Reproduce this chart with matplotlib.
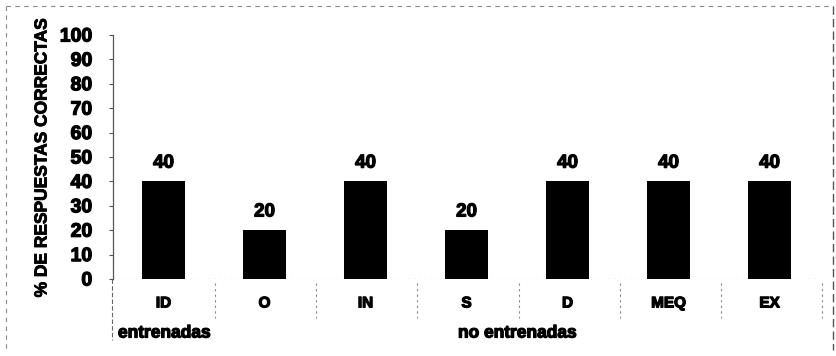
import matplotlib
matplotlib.use("Agg")
import matplotlib.pyplot as plt
from matplotlib.lines import Line2D
import matplotlib.patheffects as pe

categories = ["ID", "O", "IN", "S", "D", "MEQ", "EX"]
values = [40, 20, 40, 20, 40, 40, 40]
yticks = [0, 10, 20, 30, 40, 50, 60, 70, 80, 90, 100]
ylabel = "% DE RESPUESTAS CORRECTAS"
group_labels = ["entrenadas", "no entrenadas"]

plt.rcParams['font.family'] = ['Liberation Sans', 'DejaVu Sans']
plt.rcParams['font.weight'] = 'bold'

heavy = [pe.withStroke(linewidth=0.9, foreground='black')]

W, H = 837, 356
fig = plt.figure(figsize=(W / 100, H / 100), dpi=100)

def fx(px):
    return px / W

def fy(py):
    return 1 - py / H

left, right, top, bottom = 113, 820, 35, 279
ax = fig.add_axes([fx(left), fy(bottom), fx(right) - fx(left), fy(top) - fy(bottom)])

x = list(range(len(categories)))
ax.bar(x, values, width=0.42, color='black', zorder=3)
for xi, v in zip(x, values):
    ax.text(xi, v + 4, f"{v}", ha='center', va='bottom', fontsize=13.5, fontweight='bold',
            path_effects=heavy)

ax.set_xlim(-0.5, len(categories) - 0.5)
ax.set_ylim(0, 100)
ax.set_yticks(yticks)
ax.set_yticklabels([str(t) for t in yticks], fontsize=14, fontweight='bold')
for t in ax.get_yticklabels():
    t.set_path_effects(heavy)
ax.tick_params(axis='y', direction='out', length=3, width=0.8, color='#555555', pad=12)
ax.set_xticks([])
for s in ['top', 'right', 'bottom']:
    ax.spines[s].set_visible(False)
ax.spines['left'].set_color('#555555')
ax.spines['left'].set_linewidth(0.9)
ax.patch.set_alpha(0)

# zero line (dotted)
ax.axhline(0, color='#777777', lw=0.8, ls=(0, (2, 3)), zorder=2)

# Category labels below
for xi, c in zip(x, categories):
    ax.text(xi, -10, c, ha='center', va='center', fontsize=11, fontweight='bold',
            path_effects=heavy)

# Table separator lines (in figure pixels)
seps = [215, 316, 417, 519, 620, 721, 822]
for sx in seps:
    fig.add_artist(Line2D([fx(sx), fx(sx)], [fy(283), fy(318)], color='#888888', lw=0.8,
                          ls=(0, (2, 3))))
# left axis extension through table
fig.add_artist(Line2D([fx(112.5), fx(112.5)], [fy(279), fy(340)], color='#666666', lw=0.8,
                      ls=(0, (4, 2))))

# group labels
fig.text(fx(118), fy(333), group_labels[0], ha='left', va='center', fontsize=12.5,
         fontweight='bold', path_effects=heavy)
fig.text(fx(458), fy(333), group_labels[1], ha='left', va='center', fontsize=12.5,
         fontweight='bold', path_effects=heavy)

# y label
fig.text(fx(42), fy(158), ylabel, rotation=90, ha='center', va='center', fontsize=12.5,
         fontweight='bold', path_effects=[pe.withStroke(linewidth=0.6, foreground='black')])

# outer border (dashed, scanned look)
fig.add_artist(Line2D([fx(6), fx(833)], [fy(6), fy(6)], color='#888888', lw=0.8, ls=(0, (4, 4))))
fig.add_artist(Line2D([fx(6), fx(6)], [fy(6), fy(350)], color='#888888', lw=0.8, ls=(0, (4, 4))))
fig.add_artist(Line2D([fx(833), fx(833)], [fy(6), fy(350)], color='#555555', lw=1.0, ls=(0, (6, 3))))

fig.savefig("out.png", dpi=100)
